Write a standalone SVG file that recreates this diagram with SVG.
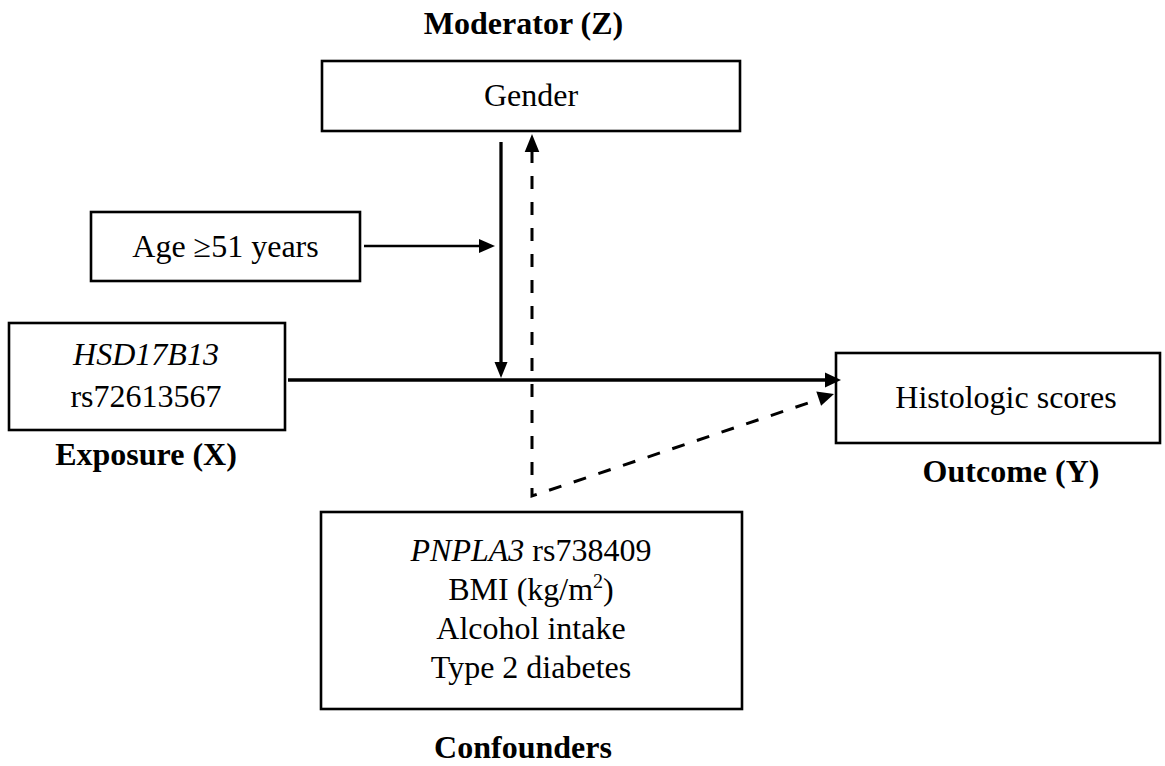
<svg xmlns="http://www.w3.org/2000/svg" width="1165" height="766" viewBox="0 0 1165 766">
<style>
  .box { fill: #ffffff; stroke: #000000; stroke-width: 2.6; }
  .t { font-family: "Liberation Serif", "Times New Roman", serif; font-size: 32px; fill: #000000; text-anchor: middle; }
  .b { font-weight: bold; }
  .i { font-style: italic; }
  .solid { stroke: #000000; stroke-width: 3.3; fill: none; }
  .thin { stroke: #000000; stroke-width: 2.7; fill: none; }
  .dash { stroke: #000000; stroke-width: 3; fill: none; stroke-dasharray: 13 13; }
  .head { fill: #000000; stroke: none; }
</style>
<rect width="1165" height="766" fill="#ffffff"/>
<g id="moderator">
  <rect class="box" x="322" y="61" width="418" height="70"/>
  <text class="t" x="531" y="106">Gender</text>
  <text class="t b" x="523.5" y="34">Moderator (Z)</text>
</g>
<g id="age">
  <rect class="box" x="91" y="212" width="269" height="69"/>
  <text class="t" x="225.5" y="257">Age ≥51 years</text>
</g>
<g id="exposure">
  <rect class="box" x="9" y="323" width="276" height="107"/>
  <text class="t i" x="146" y="365">HSD17B13</text>
  <text class="t" x="146" y="407">rs72613567</text>
  <text class="t b" x="146" y="465">Exposure (X)</text>
</g>
<g id="outcome">
  <rect class="box" x="836" y="353" width="324" height="90"/>
  <text class="t" x="1006" y="408">Histologic scores</text>
  <text class="t b" x="1011" y="482">Outcome (Y)</text>
</g>
<g id="confounders">
  <rect class="box" x="321" y="512" width="421" height="197"/>
  <text class="t" x="531" y="561"><tspan class="i">PNPLA3</tspan> rs738409</text>
  <text class="t" x="531" y="600">BMI (kg/m<tspan font-size="20" dy="-12">2</tspan><tspan dy="12">)</tspan></text>
  <text class="t" x="531" y="639">Alcohol intake</text>
  <text class="t" x="531" y="678">Type 2 diabetes</text>
  <text class="t b" x="523" y="758">Confounders</text>
</g>
<g id="connectors">
  <line class="thin" x1="364" y1="246" x2="481" y2="246"/>
  <polygon class="head" points="495,246 479,239 479,253"/>
  <line class="solid" x1="501" y1="142" x2="501" y2="364"/>
  <polygon class="head" points="501,378 494.5,362 507.5,362"/>
  <line class="solid" x1="288" y1="380" x2="826" y2="380"/>
  <polygon class="head" points="841,380 825,372.5 825,387.5"/>
  <polyline class="dash" points="532,150 532,496 820,399"/>
  <polygon class="head" points="532,134 524.7,152 539.3,152"/>
  <polygon class="head" points="834,394 816.3,391.6 821.1,405.8"/>
</g>
</svg>
